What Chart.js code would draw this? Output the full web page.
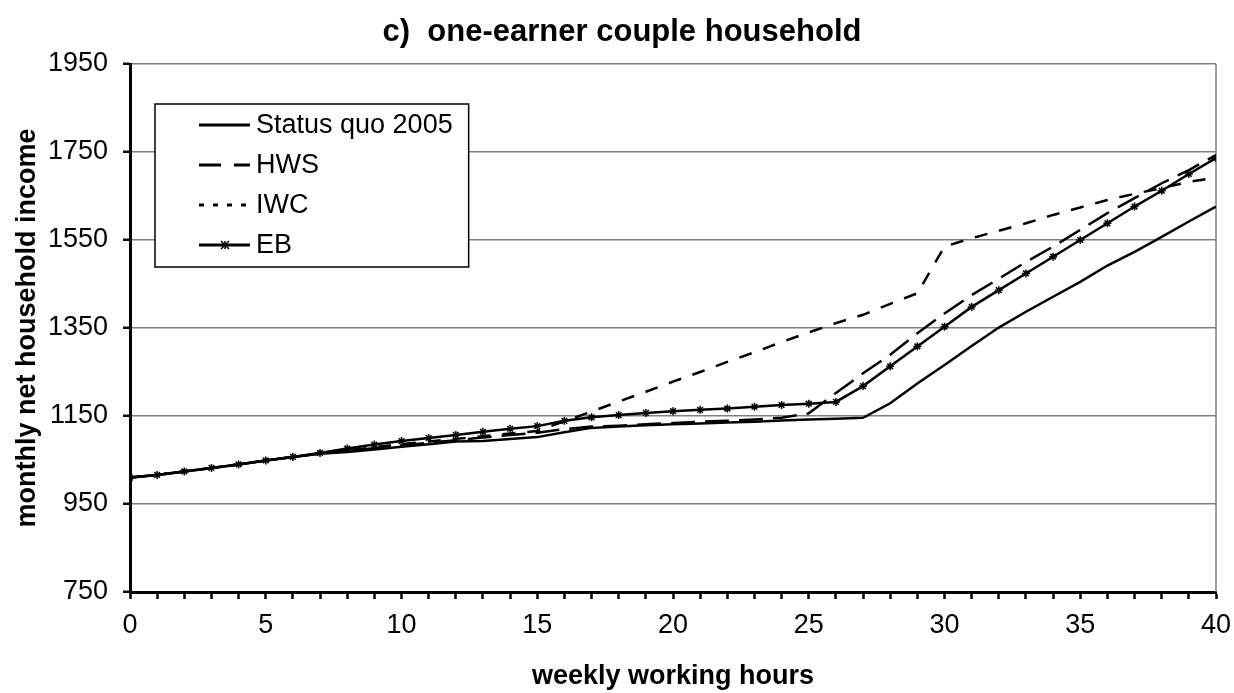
<!DOCTYPE html>
<html>
<head>
<meta charset="utf-8">
<script src="https://cdn.jsdelivr.net/npm/chart.js@4.4.1/dist/chart.umd.min.js"></script>
<style>
  html, body { margin: 0; padding: 0; background: #fff; }
  #wrap { width: 1234px; height: 693px; }
</style>
</head>
<body>
<div id="wrap"><canvas id="incomeChart" width="1234" height="693"></canvas></div>
<script>
// weekly working hours 0..40
var hours = [0,1,2,3,4,5,6,7,8,9,10,11,12,13,14,15,16,17,18,19,20,
             21,22,23,24,25,26,27,28,29,30,31,32,33,34,35,36,37,38,39,40];

var statusQuo = [1010,1016,1024,1032,1040,1049,1057,1064,1068,1074,1080,
                 1086,1092,1093,1098,1102,1113,1123,1126,1129,1131,
                 1133,1135,1137,1140,1142,1144,1146,1179,1224,1266,
                 1309,1351,1387,1421,1455,1492,1523,1557,1592,1626];

var hws = [1010,1016,1024,1032,1040,1049,1057,1065,1071,1077,1083,
           1089,1095,1101,1107,1112,1120,1126,1128,1131,1134,
           1137,1139,1142,1146,1156,1202,1247,1289,1338,1383,
           1425,1462,1500,1535,1573,1611,1645,1679,1709,1743];

var iwc = [1010,1016,1024,1032,1040,1049,1057,1065,1072,1079,1086,
           1092,1098,1104,1110,1116,1138,1160,1183,1205,1228,
           1250,1273,1295,1318,1340,1361,1380,1405,1429,1535,
           1554,1571,1588,1607,1624,1641,1655,1668,1682,1692];

var eb = [1010,1016,1024,1032,1040,1049,1057,1066,1076,1085,1093,
          1100,1107,1114,1121,1127,1139,1147,1152,1157,1161,
          1164,1167,1171,1175,1178,1182,1218,1263,1308,1353,
          1398,1436,1474,1512,1550,1588,1626,1662,1700,1736];

var seriesNames = ['Status quo 2005', 'HWS', 'IWC', 'EB'];
var yTicks = [750, 950, 1150, 1350, 1550, 1750, 1950];
var chartTitle = 'c)  one-earner couple household';

var FONT = '"Liberation Sans", Arial, Helvetica, sans-serif';

function toPoints(vals) {
    return vals.map(function (v, i) { return {x: hours[i], y: v}; });
}

// gray frame on the right side of the plot
var rightBorder = {
    id: 'rightBorder',
    beforeDatasetsDraw: function (chart) {
        var a = chart.chartArea, ctx = chart.ctx;
        ctx.save();
        ctx.strokeStyle = '#808080';
        ctx.lineWidth = 1.5;
        ctx.beginPath();
        ctx.moveTo(a.right, a.top);
        ctx.lineTo(a.right, a.bottom);
        ctx.stroke();
        ctx.restore();
    }
};

// title, centred on the whole picture like the original
var topTitle = {
    id: 'topTitle',
    afterDraw: function (chart) {
        var ctx = chart.ctx;
        ctx.save();
        ctx.font = 'bold 31px ' + FONT;
        ctx.fillStyle = '#000';
        ctx.textAlign = 'center';
        ctx.textBaseline = 'middle';
        ctx.fillText(chartTitle, 622, 32);
        ctx.restore();
    }
};

// boxed legend inside the plot, top left
var boxLegend = {
    id: 'boxLegend',
    afterDraw: function (chart) {
        var ctx = chart.ctx;
        var left = 155, top = 104, rowH = 40, firstY = 125;
        ctx.save();
        ctx.font = '27px ' + FONT;
        var maxW = 0;
        chart.data.datasets.forEach(function (ds) {
            maxW = Math.max(maxW, ctx.measureText(ds.label).width);
        });
        var w = 256 - left + maxW + 16;
        var h = 163;
        ctx.fillStyle = '#fff';
        ctx.fillRect(left, top, w, h);
        ctx.strokeStyle = '#000';
        ctx.lineWidth = 1.5;
        ctx.strokeRect(left, top, w, h);

        chart.data.datasets.forEach(function (ds, i) {
            var y = firstY + i * rowH;
            ctx.strokeStyle = '#000';
            ctx.lineWidth = 3;
            ctx.setLineDash(ds.legendDash || []);
            ctx.beginPath();
            ctx.moveTo(199, y);
            ctx.lineTo(250, y);
            ctx.stroke();
            ctx.setLineDash([]);
            if (ds.pointRadius > 0) {
                ctx.lineWidth = 1.5;
                ctx.beginPath();
                ctx.moveTo(221, y - 4); ctx.lineTo(229, y + 4);
                ctx.moveTo(229, y - 4); ctx.lineTo(221, y + 4);
                ctx.moveTo(225, y - 4); ctx.lineTo(225, y + 4);
                ctx.stroke();
            }
            ctx.fillStyle = '#000';
            ctx.textBaseline = 'middle';
            ctx.textAlign = 'left';
            ctx.fillText(ds.label, 256, y + 1);
        });
        ctx.restore();
    }
};

var ctx = document.getElementById('incomeChart');

new Chart(ctx, {
    type: 'line',
    data: {
        datasets: [{
            label: seriesNames[0],
            data: toPoints(statusQuo),
            borderColor: '#000',
            borderWidth: 2.5,
            pointRadius: 0,
            legendDash: []
        }, {
            label: seriesNames[1],
            data: toPoints(hws),
            borderColor: '#000',
            borderWidth: 2.5,
            borderDash: [24, 10],
            pointRadius: 0,
            legendDash: [22, 13]
        }, {
            label: seriesNames[2],
            data: toPoints(iwc),
            borderColor: '#000',
            borderWidth: 2.5,
            borderDash: [13, 12],
            pointRadius: 0,
            legendDash: [5, 9]
        }, {
            label: seriesNames[3],
            data: toPoints(eb),
            borderColor: '#000',
            borderWidth: 2.5,
            pointStyle: 'star',
            pointRadius: 4,
            pointBorderWidth: 1.5,
            pointBorderColor: '#000',
            pointBackgroundColor: '#000',
            legendDash: []
        }]
    },
    options: {
        responsive: false,
        animation: false,
        layout: {
            padding: {left: 0, right: 18, top: 64, bottom: 0}
        },
        plugins: {
            legend: {
                display: false
            },
            tooltip: {
                enabled: false
            },
            title: {
                display: false
            }
        },
        scales: {
            x: {
                type: 'linear',
                min: 0,
                max: 40,
                afterFit: function (scale) {
                    scale.height = 101;
                    scale.paddingRight = 0;
                },
                ticks: {
                    stepSize: 1,
                    autoSkip: false,
                    maxRotation: 0,
                    padding: 10,
                    color: '#000',
                    font: {family: FONT, size: 27},
                    callback: function (v) { return v % 5 === 0 ? String(v) : ''; }
                },
                grid: {
                    drawOnChartArea: false,
                    drawTicks: true,
                    tickLength: 7,
                    tickWidth: 2.5,
                    tickColor: '#000'
                },
                border: {color: '#000', width: 3},
                title: {
                    display: true,
                    text: 'weekly working hours',
                    color: '#000',
                    font: {family: FONT, size: 27, weight: 'bold'},
                    padding: {top: 0, bottom: 0}
                }
            },
            y: {
                min: 750,
                max: 1950,
                afterFit: function (scale) { scale.width = 130; },
                afterBuildTicks: function (scale) {
                    scale.ticks = yTicks.map(function (v) { return {value: v}; });
                },
                ticks: {
                    padding: 15,
                    color: '#000',
                    font: {family: FONT, size: 27},
                    callback: function (v) { return String(v); }
                },
                grid: {
                    color: '#808080',
                    lineWidth: 1.5,
                    tickLength: 7,
                    tickWidth: 2.5,
                    tickColor: '#000'
                },
                border: {color: '#000', width: 3},
                title: {
                    display: true,
                    text: 'monthly net household income',
                    color: '#000',
                    font: {family: FONT, size: 27, weight: 'bold'},
                    padding: {top: 11, bottom: 0}
                }
            }
        }
    },
    plugins: [rightBorder, boxLegend, topTitle]
});
</script>
</body>
</html>
